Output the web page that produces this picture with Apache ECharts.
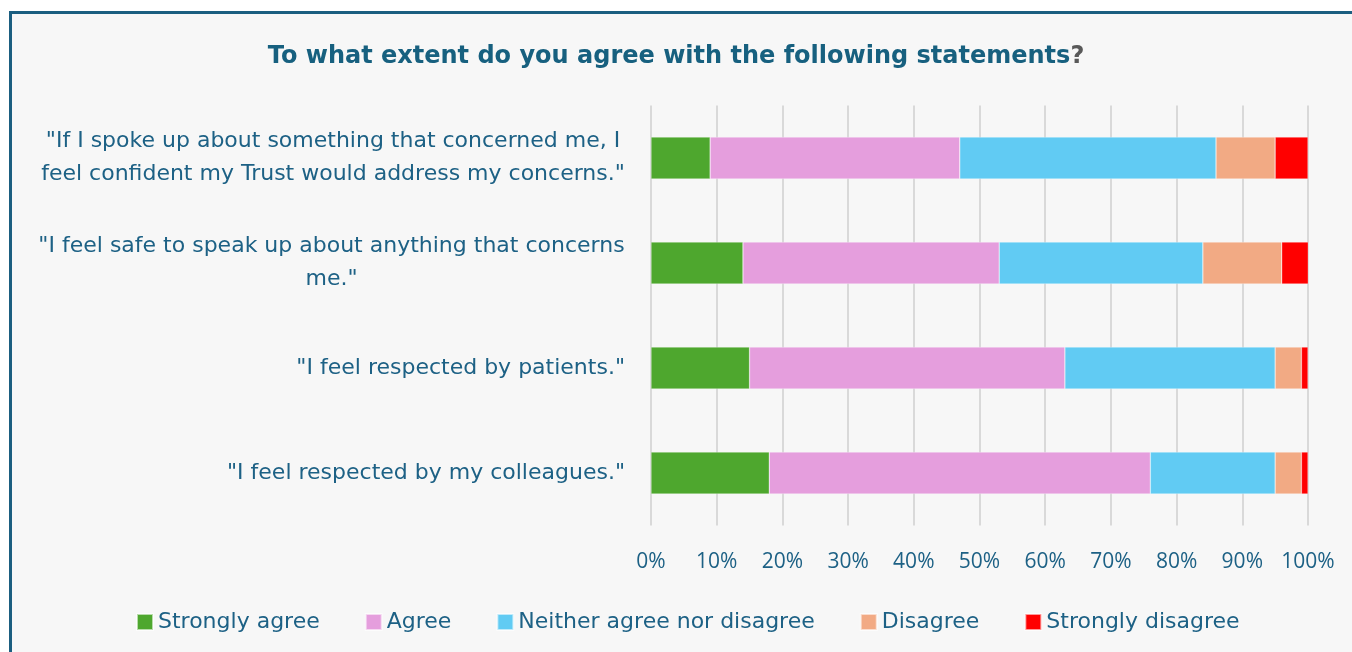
<!DOCTYPE html>
<html>
<head>
<meta charset="utf-8">
<script src="https://cdn.jsdelivr.net/npm/echarts@6/dist/echarts.min.js"></script>
<style>
  html, body { margin: 0; padding: 0; background: #ffffff; width: 1352px; height: 652px; overflow: hidden; }
  #frame { position: absolute; left: 9px; top: 11px; width: 1400px; height: 700px;
           border: 3px solid #1b5e80; background: #f7f7f7; box-sizing: border-box; }
  #chart { position: absolute; left: 0; top: 0; width: 1352px; height: 652px; }
</style>
</head>
<body>
<div id="frame"></div>
<div id="chart"></div>
<script>
// Survey statements (top to bottom) and response shares in percent
const statements = [
  '"If I spoke up about something that concerned me, I feel confident my Trust would address my concerns."',
  '"I feel safe to speak up about anything that concerns me."',
  '"I feel respected by patients."',
  '"I feel respected by my colleagues."'
];
const responseNames = ['Strongly agree', 'Agree', 'Neither agree nor disagree', 'Disagree', 'Strongly disagree'];
const stronglyAgree    = [9, 14, 15, 18];
const agree            = [38, 39, 48, 58];
const neither          = [39, 31, 32, 19];
const disagree         = [9, 12, 4, 4];
const stronglyDisagree = [5, 4.3, 1, 1];
const tickValues = [0, 10, 20, 30, 40, 50, 60, 70, 80, 90, 100];

const responseColors = ['#4ea72e', '#e59edd', '#61cbf3', '#f2aa84', '#ff0000'];
const textColor = '#1d6185';
const wideFont = '"DejaVu Sans", sans-serif';
const tickFont = '"Open Sans", sans-serif';
const labelSize = 22;
const wrapWidth = 600;

// Wrap long statements; lines of a wrapped label are centred inside a box
// whose width is the longest line, and that box is right-aligned to the axis.
const ctx = document.createElement('canvas').getContext('2d');
ctx.font = labelSize + 'px ' + wideFont;
function wrap(text) {
  const words = text.split(' ');
  const lines = [];
  let cur = '';
  words.forEach(w => {
    const test = cur ? cur + ' ' + w : w;
    if (ctx.measureText(test).width > wrapWidth && cur) { lines.push(cur); cur = w; }
    else cur = test;
  });
  if (cur) lines.push(cur);
  return lines;
}
const rich = {};
const wrapped = statements.map((s, i) => {
  const lines = wrap(s);
  const w = Math.ceil(Math.max(...lines.map(l => ctx.measureText(l).width)));
  rich['c' + i] = { width: w, align: 'center', fontSize: labelSize, lineHeight: 33,
                    color: textColor, fontFamily: wideFont };
  return lines;
});

const seriesData = [stronglyAgree, agree, neither, disagree, stronglyDisagree];

const chart = echarts.init(document.getElementById('chart'), null, { renderer: 'canvas' });
chart.setOption({
  backgroundColor: 'transparent',
  animation: false,
  title: {
    text: '{a|To what extent do you agree with the following statements}{b|?}',
    left: 'center',
    top: 40,
    textStyle: {
      rich: {
        a: { fontSize: 24, fontWeight: 'bold', color: '#17607f', fontFamily: wideFont },
        b: { fontSize: 24, fontWeight: 'bold', color: '#595959', fontFamily: wideFont }
      }
    }
  },
  legend: {
    data: responseNames,
    left: 136,
    top: 611,
    padding: 0,
    itemWidth: 16,
    itemHeight: 16,
    itemGap: 45,
    icon: 'rect',
    textStyle: { fontSize: 22, color: textColor, fontFamily: wideFont }
  },
  grid: { left: 651, right: 44, top: 105.5, height: 420, containLabel: false },
  xAxis: {
    type: 'value',
    min: 0,
    max: 100,
    interval: 10,
    axisLine: { show: false },
    axisTick: { show: false },
    splitLine: { show: true, lineStyle: { color: '#d9d9d9', width: 2 } },
    axisLabel: {
      margin: 26,
      fontSize: 21,
      color: textColor,
      fontFamily: tickFont,
      formatter: v => tickValues.includes(v) ? v + '%' : ''
    }
  },
  yAxis: {
    type: 'category',
    inverse: true,
    data: statements,
    axisLine: { show: false },
    axisTick: { show: false },
    axisLabel: {
      margin: 26,
      fontSize: labelSize,
      lineHeight: 33,
      color: textColor,
      fontFamily: wideFont,
      rich: rich,
      formatter: (value, idx) => {
        const lines = wrapped[idx];
        if (lines.length === 1) return lines[0];
        return lines.map(l => '{c' + idx + '|' + l + '}').join('\n');
      }
    }
  },
  series: responseNames.map((name, i) => ({
    name: name,
    type: 'bar',
    stack: 'total',
    barWidth: 42,
    data: seriesData[i],
    itemStyle: { color: responseColors[i], borderColor: 'rgba(255,255,255,0.6)', borderWidth: 0.5 }
  }))
});
</script>
</body>
</html>
